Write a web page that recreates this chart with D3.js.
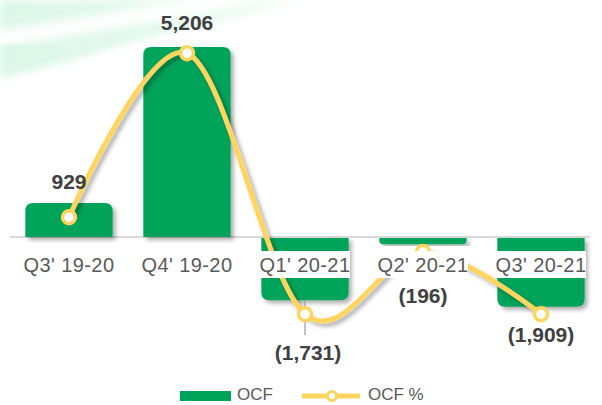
<!DOCTYPE html>
<html><head><meta charset="utf-8">
<script src="https://cdn.jsdelivr.net/npm/d3@7"></script>
<style>body{margin:0;background:#fff}svg{display:block}</style></head>
<body><svg id="c" width="602" height="405"></svg>
<script>
// ---- data ----
const categories = ["Q3' 19-20", "Q4' 19-20", "Q1' 20-21", "Q2' 20-21", "Q3' 20-21"];
const ocf = [929, 5206, -1731, -196, -1909];
const ocfPct = [12, 78, -27, -2, -27];
const valueLabels = ["929", "5,206", "(1,731)", "(196)", "(1,909)"];
const legendLabels = ["OCF", "OCF %"];

// ---- layout config ----
const labelGap = [-22, -24, 52, 51, 28];
const GREEN = "#00A35A", YELLOW = "#FFD560", TEXT = "#404040", AXIS_TEXT = "#595959";

const svg = d3.select("#c");
const defs = svg.append("defs");
const f = defs.append("filter").attr("id", "sh").attr("x", "-20%").attr("y", "-20%").attr("width", "150%").attr("height", "150%");
f.append("feDropShadow").attr("dx", 3).attr("dy", 3).attr("stdDeviation", 2.2).attr("flood-color", "#000").attr("flood-opacity", 0.32);
const blur = defs.append("filter").attr("id", "bl");
blur.append("feGaussianBlur").attr("stdDeviation", 4);
const g1 = defs.append("linearGradient").attr("id", "mint").attr("x1", 0).attr("x2", 1).attr("y1", 0).attr("y2", 0);
g1.append("stop").attr("offset", "0%").attr("stop-color", "#dcf7e8");
g1.append("stop").attr("offset", "70%").attr("stop-color", "#e8faef");
g1.append("stop").attr("offset", "100%").attr("stop-color", "#ffffff");

// background swoosh
const bg = svg.append("g");
bg.append("path").attr("d", "M0,0 H320 Q170,25 0,88 Z").attr("fill", "url(#mint)").attr("filter", "url(#bl)");
bg.append("path").attr("d", "M-10,40 Q110,22 250,-4").attr("fill", "none").attr("stroke", "#fff").attr("stroke-width", 16).attr("filter", "url(#bl)");
bg.append("path").attr("d", "M-10,88 Q80,70 180,40").attr("fill", "none").attr("stroke", "#fff").attr("stroke-width", 14).attr("filter", "url(#bl)");

// ---- scales ----
const x = d3.scaleBand().domain(categories).range([10, 600]).paddingInner(0.26).paddingOuter(0.13);
const y = d3.scaleLinear().domain([-3000, 6000]).range([346.5, 18]);
const y2 = d3.scaleLinear().domain([-40, 100]).range([346.5, -1.5]);

// baseline
svg.append("line").attr("x1", 10).attr("x2", 590).attr("y1", y(0)).attr("y2", y(0))
  .attr("stroke", "#d9d9d9").attr("stroke-width", 2);

// bars with rounded outer corners
function barPath(i) {
  const x0 = x(categories[i]), w = x.bandwidth();
  const y0 = y(0), y1 = y(ocf[i]);
  const h = Math.abs(y1 - y0);
  const r = Math.min(8, h / 2);
  const p = d3.path();
  if (ocf[i] >= 0) {
    p.moveTo(x0, y0); p.lineTo(x0, y1 + r);
    p.quadraticCurveTo(x0, y1, x0 + r, y1); p.lineTo(x0 + w - r, y1);
    p.quadraticCurveTo(x0 + w, y1, x0 + w, y1 + r); p.lineTo(x0 + w, y0); p.closePath();
  } else {
    p.moveTo(x0, y0 + 1); p.lineTo(x0, y1 - r);
    p.quadraticCurveTo(x0, y1, x0 + r, y1); p.lineTo(x0 + w - r, y1);
    p.quadraticCurveTo(x0 + w, y1, x0 + w, y1 - r); p.lineTo(x0 + w, y0 + 1); p.closePath();
  }
  return p.toString();
}
svg.append("g").selectAll("path").data(ocf).join("path")
  .attr("d", (d, i) => barPath(i)).attr("fill", GREEN).attr("filter", "url(#sh)");

// leader line for Q1'
{
  const i = 2, cx = x(categories[i]) + x.bandwidth() / 2;
  svg.append("line").attr("x1", cx).attr("x2", cx).attr("y1", y(ocf[i]))
    .attr("y2", y(ocf[i]) + labelGap[i] - 17).attr("stroke", "#9a9a9a").attr("stroke-width", 1.2);
}

// OCF % line
const pts = ocfPct.map((v, i) => [x(categories[i]) + x.bandwidth() / 2, y2(v)]);
svg.append("path").attr("d", d3.line().curve(d3.curveCardinal.tension(0))(pts))
  .attr("fill", "none").attr("stroke", YELLOW).attr("stroke-width", 5).attr("filter", "url(#sh)");
svg.append("g").selectAll("circle").data(pts).join("circle")
  .attr("cx", d => d[0]).attr("cy", d => d[1]).attr("r", 6.5)
  .attr("fill", "#fff").attr("stroke", YELLOW).attr("stroke-width", 3.5);

// category labels with white boxes
const cat = svg.append("g");
categories.forEach((c, i) => {
  const cx = x(c) + x.bandwidth() / 2;
  cat.append("rect").attr("x", cx - 45).attr("y", 251).attr("width", 90).attr("height", 27).attr("fill", "#fff");
  cat.append("text").attr("x", cx).attr("y", 272).attr("text-anchor", "middle")
    .attr("font-family", "Liberation Sans, Arial, sans-serif").attr("font-size", 20)
    .attr("letter-spacing", 0.4).attr("fill", AXIS_TEXT).text(c);
});

// value labels
svg.append("g").selectAll("text").data(valueLabels).join("text")
  .attr("x", (d, i) => x(categories[i]) + x.bandwidth() / 2 + (i === 2 ? 3 : 0))
  .attr("y", (d, i) => y(ocf[i]) + labelGap[i] + 7.5)
  .attr("text-anchor", "middle").attr("font-family", "Liberation Sans, Arial, sans-serif")
  .attr("font-weight", "bold").attr("font-size", 21).attr("fill", TEXT).text(d => d);

// legend
const lg = svg.append("g");
lg.append("rect").attr("x", 180).attr("y", 391).attr("width", 51).attr("height", 10).attr("fill", GREEN);
lg.append("text").attr("x", 237).attr("y", 400).attr("dominant-baseline", "auto").attr("font-family", "Liberation Sans, Arial, sans-serif")
  .attr("font-size", 17).attr("fill", AXIS_TEXT).text(legendLabels[0]);
lg.append("line").attr("x1", 302).attr("x2", 360).attr("y1", 396).attr("y2", 396).attr("stroke", YELLOW).attr("stroke-width", 5);
lg.append("circle").attr("cx", 332).attr("cy", 396).attr("r", 4.5).attr("fill", "#fff").attr("stroke", YELLOW).attr("stroke-width", 3);
lg.append("text").attr("x", 368).attr("y", 400).attr("font-family", "Liberation Sans, Arial, sans-serif")
  .attr("font-size", 17).attr("fill", AXIS_TEXT).text(legendLabels[1]);
</script></body></html>
